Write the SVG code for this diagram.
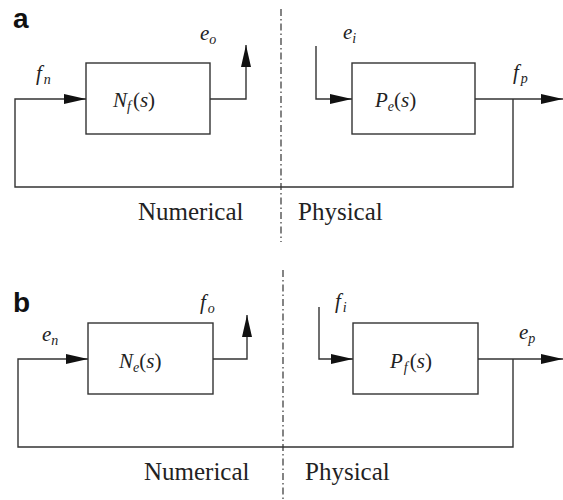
<svg xmlns="http://www.w3.org/2000/svg" width="563" height="500" viewBox="0 0 563 500">
<defs>
<marker id="arr" markerUnits="userSpaceOnUse" markerWidth="24" markerHeight="12" refX="22" refY="5" orient="auto">
<path d="M0,0 L22,5 L0,10 z" fill="#111"/>
</marker>
<style>
.ln{fill:none;stroke:#333;stroke-width:1.4}
.bx{fill:#fff;stroke:#333;stroke-width:1.4}
.dd{fill:none;stroke:#333;stroke-width:1.2;stroke-dasharray:7 3 1.5 3}
.m{font-size:21px;fill:#222}
.i{font-style:italic}
.s{font-size:14px;font-style:italic}
.lbl{font-size:25px;fill:#222}
.pn{font-weight:bold;font-size:28px;fill:#111}
</style>
</defs>
<rect width="563" height="500" fill="#fff"/>

<g id="connectors">
<path class="ln" d="M513,99 V187 H15 V99 H86" marker-end="url(#arr)"/>
<path class="ln" d="M210,99 H246 V45" marker-end="url(#arr)"/>
<path class="ln" d="M316,46 V99 H352" marker-end="url(#arr)"/>
<path class="ln" d="M475,99 H563" marker-end="url(#arr)"/>
<path class="ln" d="M513,359 V447 H18 V359 H88" marker-end="url(#arr)"/>
<path class="ln" d="M213,359 H247 V315" marker-end="url(#arr)"/>
<path class="ln" d="M319,307 V359 H353" marker-end="url(#arr)"/>
<path class="ln" d="M478,359 H563" marker-end="url(#arr)"/>
<line class="dd" x1="281" y1="9" x2="281" y2="242"/>
<line class="dd" x1="283" y1="270" x2="283" y2="500"/>
</g>

<g font-family="Liberation Sans, sans-serif">
<g id="panel-a"><text class="pn" x="13" y="28">a</text></g>
<g id="panel-b"><text class="pn" x="13" y="312">b</text></g>
</g>

<g font-family="Liberation Serif, Times New Roman, serif">
<g id="Nf">
<rect class="bx" x="86" y="63" width="124" height="71"/>
<text class="m" x="113" y="107"><tspan class="i">N</tspan><tspan class="s" dy="4">f</tspan><tspan dy="-4" dx="2">(</tspan><tspan class="i">s</tspan>)</text>
</g>
<g id="Pe">
<rect class="bx" x="352" y="63" width="123" height="71"/>
<text class="m" x="375" y="107"><tspan class="i">P</tspan><tspan class="s" dy="4">e</tspan><tspan dy="-4">(</tspan><tspan class="i">s</tspan>)</text>
</g>
<g id="labels-a">
<text class="m" x="36" y="80"><tspan class="i">f</tspan><tspan class="s" dy="4" dx="2">n</tspan></text>
<text class="m" x="200" y="40"><tspan class="i">e</tspan><tspan class="s" dy="4">o</tspan></text>
<text class="m" x="343" y="39"><tspan class="i">e</tspan><tspan class="s" dy="4">i</tspan></text>
<text class="m" x="513" y="79"><tspan class="i">f</tspan><tspan class="s" dy="4" dx="2">p</tspan></text>
<text class="lbl" x="138" y="220">Numerical</text>
<text class="lbl" x="298" y="220">Physical</text>
</g>
<g id="Ne">
<rect class="bx" x="88" y="323" width="125" height="71"/>
<text class="m" x="119" y="368"><tspan class="i">N</tspan><tspan class="s" dy="4">e</tspan><tspan dy="-4">(</tspan><tspan class="i">s</tspan>)</text>
</g>
<g id="Pf">
<rect class="bx" x="353" y="323" width="125" height="71"/>
<text class="m" x="390" y="368"><tspan class="i">P</tspan><tspan class="s" dy="4" dx="1">f</tspan><tspan dy="-4" dx="2">(</tspan><tspan class="i">s</tspan>)</text>
</g>
<g id="labels-b">
<text class="m" x="42" y="341"><tspan class="i">e</tspan><tspan class="s" dy="4">n</tspan></text>
<text class="m" x="200" y="309"><tspan class="i">f</tspan><tspan class="s" dy="4" dx="2">o</tspan></text>
<text class="m" x="335" y="308"><tspan class="i">f</tspan><tspan class="s" dy="4" dx="2">i</tspan></text>
<text class="m" x="519" y="339"><tspan class="i">e</tspan><tspan class="s" dy="4">p</tspan></text>
<text class="lbl" x="144" y="480">Numerical</text>
<text class="lbl" x="305" y="480">Physical</text>
</g>
</g>
</svg>
